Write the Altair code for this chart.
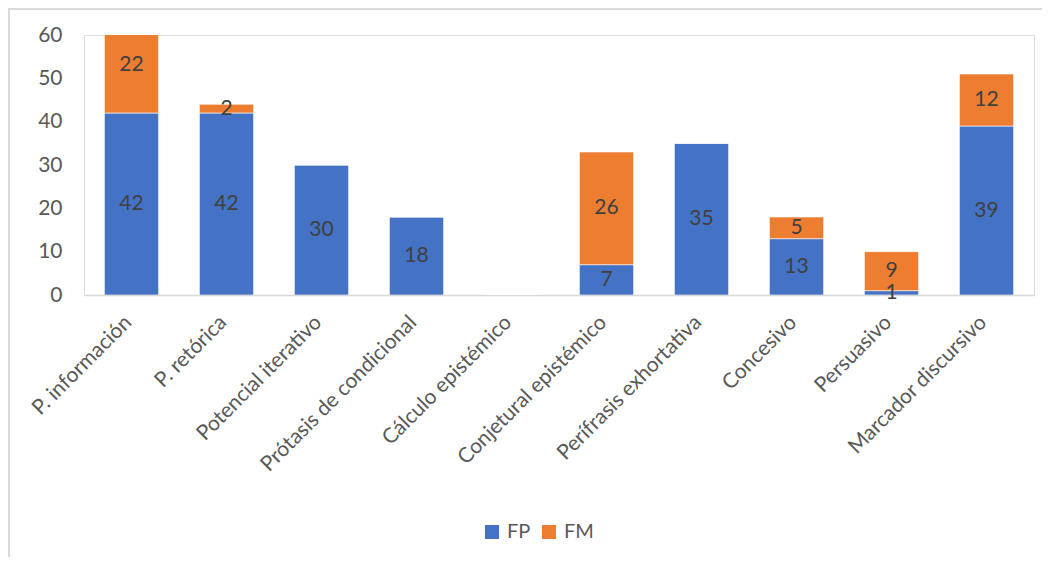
import altair as alt
import pandas as pd

categories = ["P. información", "P. retórica", "Potencial iterativo", "Prótasis de condicional",
              "Cálculo epistémico", "Conjetural epistémico", "Perífrasis exhortativa",
              "Concesivo", "Persuasivo", "Marcador discursivo"]
fp_values = [42, 42, 30, 18, 0, 7, 35, 13, 1, 39]
fm_values = [22, 2, 0, 0, 0, 26, 0, 5, 9, 12]
series = ["FP", "FM"]
colors = ["#4472C4", "#ED7D31"]

rows = []
for i, c in enumerate(categories):
    rows.append({"cat": c, "serie": "FP", "value": fp_values[i], "ord": 0})
    rows.append({"cat": c, "serie": "FM", "value": fm_values[i], "ord": 1})
df = pd.DataFrame(rows)

FONT = "Lato"
PAD_L, PAD_T, PAD_R, PAD_B = 76, 27, 8, 262
W, H = 950, 260

base = alt.Chart(df).transform_stack(
    stack="value", groupby=["cat"], as_=["y0", "y1"], sort=[alt.SortField("ord")]
).transform_calculate(mid="(datum.y0 + datum.y1) / 2")

xenc = alt.X("cat:N", sort=categories, title=None,
             scale=alt.Scale(paddingInner=0.43, paddingOuter=0.215),
             axis=alt.Axis(labelAngle=-45, labelAlign="right", labelBaseline="middle",
                           labelPadding=24, labelOffset=-3, ticks=False, domainColor="#d9d9d9",
                           domainWidth=1.5, labelFont=FONT, labelFontSize=21,
                           labelColor="#595959", labelLimit=400))

bars = base.mark_bar(stroke="white", strokeWidth=0.6, clip=True).encode(
    x=xenc,
    y=alt.Y("y0:Q", title=None, scale=alt.Scale(domain=[0, 60]),
            axis=alt.Axis(values=[0, 10, 20, 30, 40, 50, 60], domain=False, ticks=False,
                          grid=False, labelFont=FONT, labelFontSize=21,
                          labelColor="#595959", labelPadding=22)),
    y2="y1:Q",
    color=alt.Color("serie:N", scale=alt.Scale(domain=series, range=colors),
                    legend=alt.Legend(title=None, orient="none", direction="horizontal",
                                      legendX=398, legendY=487, symbolType="square",
                                      symbolSize=196, symbolStrokeWidth=0,
                                      labelFont=FONT, labelFontSize=20,
                                      labelColor="#595959", columnPadding=8,
                                      labelOffset=5)),
)

labels = base.transform_filter("datum.value > 0").mark_text(
    font=FONT, fontSize=21, color="#404040", baseline="middle", align="center"
).encode(
    x=alt.X("cat:N", sort=categories),
    y=alt.Y("mid:Q"),
    text=alt.Text("value:Q"),
)

frame_left = alt.Chart(pd.DataFrame({"a": [0]})).mark_rule(color="#d9d9d9", strokeWidth=2).encode(
    x=alt.value(-PAD_L + 1), y=alt.value(-PAD_T), y2=alt.value(H + PAD_B))
frame_top = alt.Chart(pd.DataFrame({"a": [0]})).mark_rule(color="#d9d9d9", strokeWidth=2).encode(
    x=alt.value(-PAD_L), x2=alt.value(W + PAD_R), y=alt.value(-PAD_T + 1))

chart = alt.layer(bars, labels, frame_left, frame_top).properties(
    width=W, height=H,
    autosize=alt.AutoSizeParams(type="none"),
    padding={"left": PAD_L, "top": PAD_T, "right": PAD_R, "bottom": PAD_B},
).configure_view(stroke=None).configure(background="white")

chart.save("out.html", embed_options={"renderer": "svg", "actions": False})
